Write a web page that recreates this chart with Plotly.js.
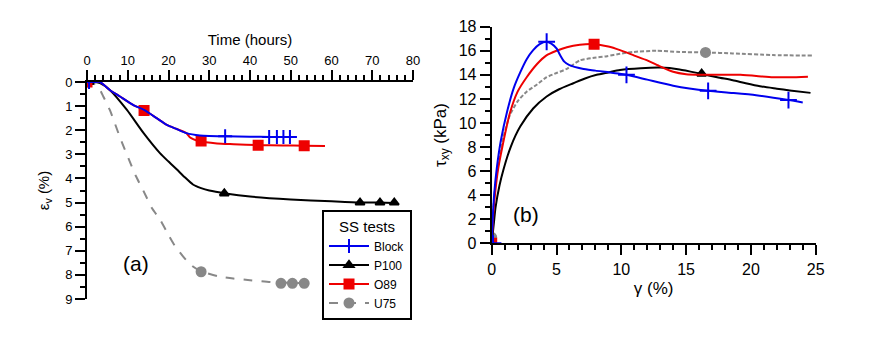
<!DOCTYPE html>
<html>
<head>
<meta charset="utf-8">
<script src="https://cdn.plot.ly/plotly-3.0.1.min.js"></script>
<style>
  html, body { margin: 0; padding: 0; background: #fff; }
  #myPlot { width: 872px; height: 337px; }
</style>
</head>
<body>
<div id="myPlot"></div>
<script>
// (a) Time (hours) vs volumetric strain (%)
const blockT = [0, 2, 3.2, 5.6, 8.1, 11.3, 14, 17.1, 19.6, 22, 24.4, 27.7, 30, 34, 40, 45, 50, 51];
const blockE = [0, 0, 0, 0.33, 0.6, 0.95, 1.16, 1.5, 1.78, 1.95, 2.12, 2.22, 2.24, 2.25, 2.27, 2.28, 2.28, 2.28];
const blockMarkT = [0.5, 33.9, 44.7, 46.6, 48.2, 49.8];
const blockMarkE = [0, 2.25, 2.28, 2.28, 2.28, 2.28];

const p100T = [0, 2, 3.2, 5.6, 9.8, 13.8, 17.9, 20, 22, 24, 26, 28, 30, 34, 40, 50, 60, 67, 72, 75.5];
const p100E = [0, 0, 0.05, 0.33, 1.16, 2.1, 2.95, 3.3, 3.62, 3.95, 4.25, 4.4, 4.5, 4.62, 4.75, 4.87, 4.95, 5.0, 5.0, 5.02];
const p100MarkT = [0.5, 33.7, 67, 71.9, 75.4];
const p100MarkE = [0, 4.62, 5.0, 5.0, 5.0];

const o89T = [0, 2, 3.2, 5.6, 8.1, 11.3, 14, 17.1, 19.6, 22, 24.4, 25.3, 27.5, 31.9, 36, 42, 48, 53.3, 58.4];
const o89E = [0, 0, 0, 0.33, 0.6, 0.95, 1.16, 1.5, 1.78, 1.95, 2.12, 2.3, 2.45, 2.55, 2.58, 2.62, 2.63, 2.64, 2.65];
const o89MarkT = [0, 14, 28, 42, 53.3];
const o89MarkE = [0, 1.18, 2.45, 2.62, 2.64];

const u75T = [0, 1, 2, 3.2, 4, 5.6, 8.1, 10.5, 12, 13.8, 16, 17.9, 20, 21.2, 22, 24.4, 26, 28, 32, 35.9, 40, 45, 50, 53.3];
const u75E = [0, 0, 0.1, 0.33, 0.6, 1.16, 2.3, 3.3, 3.9, 4.5, 5.25, 5.7, 6.35, 6.7, 6.9, 7.4, 7.65, 7.85, 8.05, 8.15, 8.22, 8.3, 8.33, 8.35];
const u75MarkT = [0, 28, 47.6, 50.4, 53.3];
const u75MarkE = [0, 7.87, 8.35, 8.35, 8.35];

// (b) shear strain (%) vs shear stress (kPa)
const blockG = [0, 0.1, 0.2, 0.4, 0.7, 1.2, 1.7, 2.2, 2.7, 3.2, 3.7, 4.2, 4.6, 5.0, 5.3, 5.6, 6.0, 7.0, 8.0, 10.4, 12, 14, 16.7, 18.5, 20.4, 22.9, 24];
const blockTau = [0, 2.5, 4.2, 6.3, 8.5, 11.0, 12.9, 14.2, 15.3, 16.05, 16.55, 16.75, 16.6, 16.2, 15.6, 15.1, 14.8, 14.5, 14.35, 14.0, 13.6, 13.1, 12.67, 12.5, 12.3, 11.9, 11.7];
const blockMarkG = [0.1, 4.24, 10.4, 16.7, 22.9];
const blockMarkTau = [0, 16.75, 14.0, 12.67, 11.9];

const p100G = [0, 0.15, 0.3, 0.6, 0.9, 1.5, 2.2, 3.2, 4.24, 5.2, 6.3, 7.2, 8.1, 9.0, 9.9, 11.5, 13.0, 14.5, 16.1, 17.4, 18.6, 19.6, 20.7, 22, 23, 24.6];
const p100Tau = [0, 1.5, 3.0, 4.8, 6.1, 8.1, 9.7, 11.2, 12.2, 12.8, 13.3, 13.7, 14.0, 14.2, 14.4, 14.55, 14.6, 14.45, 14.1, 13.8, 13.55, 13.3, 13.05, 12.85, 12.7, 12.5];
const p100MarkG = [0, 16.2];
const p100MarkTau = [0, 14.1];

const o89G = [0, 0.1, 0.25, 0.5, 0.8, 1.4, 2.0, 2.7, 3.5, 4.2, 5.0, 5.8, 6.8, 7.9, 9.0, 9.9, 11, 12, 13, 14, 15, 16.1, 19.2, 21.7, 23, 24.4];
const o89Tau = [0, 2.0, 4.0, 6.2, 7.9, 10.8, 12.6, 13.8, 14.9, 15.6, 16.0, 16.3, 16.5, 16.55, 16.35, 16.05, 15.6, 15.2, 14.7, 14.25, 14.05, 14.0, 14.0, 13.8, 13.8, 13.85];
const o89MarkG = [0, 7.9];
const o89MarkTau = [0, 16.55];

const u75G = [0, 0.1, 0.25, 0.5, 0.9, 1.4, 2.0, 2.7, 3.5, 4.24, 5.0, 5.8, 6.8, 7.8, 8.9, 9.9, 10.9, 12.7, 14.5, 16.5, 18.6, 21.7, 24.8];
const u75Tau = [0.5, 2.5, 4.5, 6.5, 8.8, 10.65, 11.8, 12.6, 13.2, 13.8, 14.15, 14.5, 15.2, 15.4, 15.55, 15.75, 15.9, 16.0, 15.9, 15.86, 15.78, 15.64, 15.6];
const u75MarkG = [0, 16.5];
const u75MarkTau = [0.5, 15.86];

const names = ['Block', 'P100', 'O89', 'U75'];
const colors = ['#0000ee', '#000000', '#ee0000', '#888888'];
const symbols = ['cross-thin', 'triangle-up', 'square', 'circle'];
const sizesA = [10, 8, 9, 9];
const sizesB = [12, 8, 9, 9];
const dashesA = ['solid', 'solid', 'solid', 'dash'];
const dashesB = ['solid', 'solid', 'solid', '4px,2px'];

function mk(i, xs, ys, xa, ya, sz) {
  return {
    x: xs, y: ys, xaxis: xa, yaxis: ya,
    mode: 'markers', type: 'scatter', showlegend: false, hoverinfo: 'skip',
    marker: {symbol: symbols[i], size: sz[i], color: colors[i],
             line: {color: colors[i], width: 2}}
  };
}
function ln(i, xs, ys, xa, ya, dash) {
  return {
    x: xs, y: ys, xaxis: xa, yaxis: ya,
    mode: 'lines', type: 'scatter', showlegend: false, hoverinfo: 'skip',
    line: {color: colors[i], width: 2, dash: dash[i], shape: 'spline', smoothing: 0.6}
  };
}

var leftT = [blockT, p100T, o89T, u75T];
var leftE = [blockE, p100E, o89E, u75E];
var leftMT = [blockMarkT, p100MarkT, o89MarkT, u75MarkT];
var leftME = [blockMarkE, p100MarkE, o89MarkE, u75MarkE];
var rightG = [blockG, p100G, o89G, u75G];
var rightTau = [blockTau, p100Tau, o89Tau, u75Tau];
var rightMG = [blockMarkG, p100MarkG, o89MarkG, u75MarkG];
var rightMTau = [blockMarkTau, p100MarkTau, o89MarkTau, u75MarkTau];

var data = [];
var order = [3, 1, 2, 0];
order.forEach(function(i) {
  data.push(ln(i, leftT[i], leftE[i], 'x', 'y', dashesA));
  data.push(mk(i, leftMT[i], leftME[i], 'x', 'y', sizesA));
});
order.forEach(function(i) {
  data.push(ln(i, rightG[i], rightTau[i], 'x2', 'y2', dashesB));
  data.push(mk(i, rightMG[i], rightMTau[i], 'x2', 'y2', sizesB));
});
// legend entries
for (var i = 0; i < names.length; i++) {
  data.push({
    x: [null], y: [null], xaxis: 'x', yaxis: 'y',
    name: names[i], mode: 'lines+markers', type: 'scatter',
    line: {color: colors[i], width: 2, dash: dashesA[i]},
    marker: {symbol: symbols[i], size: sizesA[i], color: colors[i],
             line: {color: colors[i], width: 2}}
  });
}

var axisCommon = {
  showline: true, linewidth: 2, linecolor: '#000',
  ticks: 'outside', ticklen: 10, tickwidth: 2, tickcolor: '#000',
  showgrid: false, zeroline: false, automargin: false,
  fixedrange: true
};

var layout = {
  width: 872, height: 337,
  margin: {l: 0, r: 0, t: 0, b: 0},
  paper_bgcolor: '#fff', plot_bgcolor: 'rgba(0,0,0,0)',
  font: {family: 'Liberation Sans, Arial, sans-serif', color: '#000'},
  showlegend: true,
  legend: {
    x: 322 / 872, y: 1 - 210 / 337, xanchor: 'left', yanchor: 'top',
    bgcolor: '#fff', bordercolor: '#000', borderwidth: 2,
    font: {size: 12}, itemwidth: 40, tracegroupgap: 0,
    title: {text: 'SS tests', font: {size: 15}, side: 'top center'}
  },
  xaxis: Object.assign({}, axisCommon, {
    domain: [87 / 872, 413 / 872], range: [0, 80], side: 'top', anchor: 'y',
    dtick: 10, tickfont: {size: 13},
    minor: {dtick: 2, ticks: 'outside', ticklen: 5, tickwidth: 2, tickcolor: '#000'},
    title: {text: 'Time (hours)', font: {size: 15}, standoff: 4}
  }),
  yaxis: Object.assign({}, axisCommon, {
    domain: [1 - 299 / 337, 1 - 82 / 337], range: [9, 0], anchor: 'x',
    dtick: 1, tickfont: {size: 13},
    minor: {dtick: 0.5, ticks: 'outside', ticklen: 5, tickwidth: 2, tickcolor: '#000'},
    title: {text: 'ε<sub>v</sub> (%)', font: {size: 15}, standoff: 12}
  }),
  xaxis2: Object.assign({}, axisCommon, {
    domain: [491.7 / 872, 815.7 / 872], range: [0, 25], anchor: 'y2',
    dtick: 5, tickfont: {size: 16},
    minor: {dtick: 1, ticks: 'outside', ticklen: 5, tickwidth: 2, tickcolor: '#000'},
    title: {text: 'γ (%)', font: {size: 17}, standoff: 6}
  }),
  yaxis2: Object.assign({}, axisCommon, {
    domain: [1 - 243.3 / 337, 1 - 26.7 / 337], range: [0, 18], anchor: 'x2',
    dtick: 2, tickfont: {size: 16},
    minor: {dtick: 1, ticks: 'outside', ticklen: 5, tickwidth: 2, tickcolor: '#000'},
    title: {text: 'τ<sub>xy</sub> (kPa)', font: {size: 17}, standoff: 8}
  }),
  annotations: [
    {text: '(a)', x: 121 / 872, y: 1 - 277 / 337, xref: 'paper', yref: 'paper',
     showarrow: false, font: {size: 21}},
    {text: '(b)', x: 526 / 872, y: 1 - 228 / 337, xref: 'paper', yref: 'paper',
     showarrow: false, font: {size: 21}}
  ]
};

const myPlot = document.getElementById('myPlot');
Plotly.newPlot(myPlot, data, layout, {displayModeBar: false, staticPlot: true});
</script>
</body>
</html>
